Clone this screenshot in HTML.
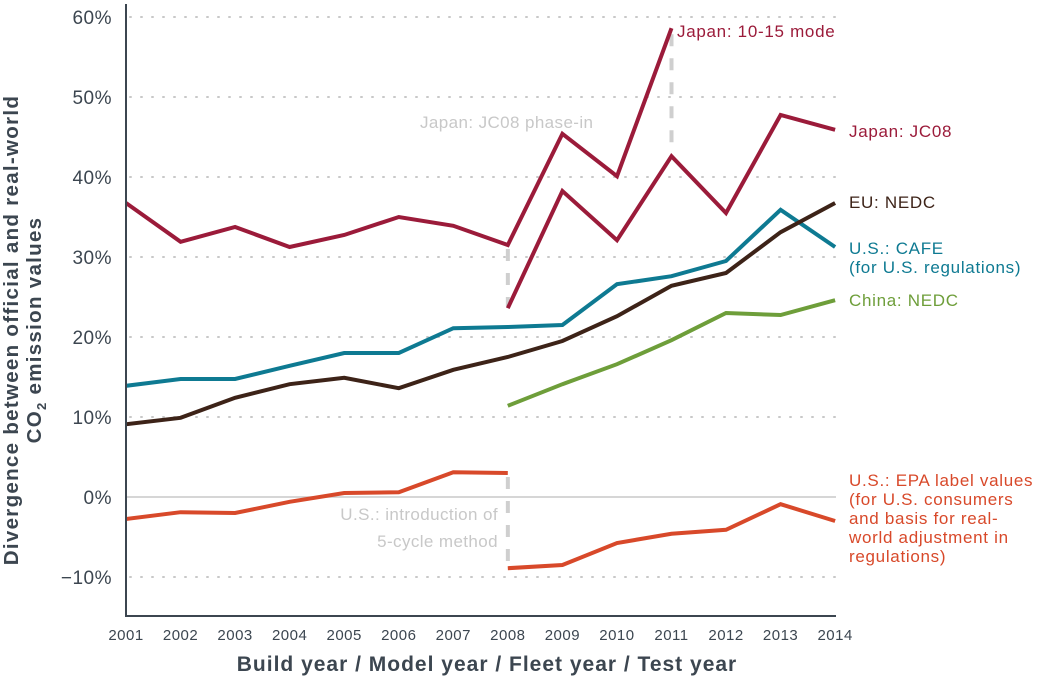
<!DOCTYPE html>
<html><head><meta charset="utf-8"><style>
body{margin:0;background:#fff;}
svg text{font-family:"Liberation Sans",sans-serif;}
</style></head><body>
<svg width="1056" height="680" viewBox="0 0 1056 680" xmlns="http://www.w3.org/2000/svg">
<g id="grid"></g>
<g id="ann"></g>
<g id="series"></g>
<g id="axes"></g>
<g id="labels"></g>
<text x="487" y="671" text-anchor="middle" font-size="21" font-weight="bold" letter-spacing="1" fill="#3c4650">Build year / Model year / Fleet year / Test year</text>
<text transform="translate(18,330) rotate(-90)" text-anchor="middle" font-size="20.5" font-weight="bold" letter-spacing="1.3" fill="#3c4650">Divergence between official and real-world</text>
<text transform="translate(41,330) rotate(-90)" text-anchor="middle" font-size="20.5" font-weight="bold" letter-spacing="1.3" fill="#3c4650">CO<tspan font-size="13" dy="5">2</tspan><tspan dy="-5"> emission values</tspan></text>
</svg>
<script>
const years=[2001,2002,2003,2004,2005,2006,2007,2008,2009,2010,2011,2012,2013,2014];
const yTicks=[-10,0,10,20,30,40,50,60];
const japan1015=[36.75,31.9,33.75,31.25,32.75,35,33.9,31.5,45.4,40.1,58.6];
const japanJC08=[23.6,38.25,32.1,42.6,35.5,47.75,45.9];
const eu=[9.1,9.9,12.4,14.1,14.9,13.6,15.9,17.5,19.5,22.6,26.4,28,33.1,36.75];
const usCafe=[13.9,14.75,14.75,16.4,18,18,21.1,21.25,21.5,26.6,27.6,29.5,35.9,31.25];
const china=[11.4,14.1,16.6,19.6,23,22.75,24.6];
const epaOld=[-2.75,-1.9,-2,-0.6,0.5,0.6,3.1,3];
const epaNew=[-8.9,-8.5,-5.75,-4.6,-4.1,-0.9,-3];
const NS="http://www.w3.org/2000/svg";
const x=yr=>126+(yr-2001)*54.55;
const y=v=>497-v*8.0;
function mk(tag,attrs,parent){const e=document.createElementNS(NS,tag);for(const k in attrs)e.setAttribute(k,attrs[k]);document.getElementById(parent).appendChild(e);return e;}
yTicks.forEach(t=>{
  if(t!==0){const l=mk('line',{x1:130,x2:836,y1:y(t),y2:y(t),stroke:'#c8c8c8','stroke-width':2,'stroke-dasharray':'1 10','stroke-linecap':'round'},'grid');
  
  }
  else{const l=mk('line',{x1:126,x2:836,y1:y(0),y2:y(0),stroke:'#c8c8c8','stroke-width':1.5},'grid');
  
  }
  const tx=mk('text',{x:112,y:y(t)+7,'text-anchor':'end','font-size':19,'letter-spacing':0.5,fill:'#3c4650'},'axes');
  tx.textContent=(t<0?'\u221210':t)+'%';
  
  
});
years.forEach(yr=>{const tx=mk('text',{x:x(yr),y:640,'text-anchor':'middle','font-size':15,'letter-spacing':0.5,fill:'#3c4650'},'axes');tx.textContent=yr;
  
  });
const ax=mk('path',{d:`M126 4 V616 H836`,fill:'none',stroke:'#3c4650','stroke-width':2},'axes');


[[x(2008),y(31.5)+4,y(23.6)-2],[x(2011),y(58.6)+6,y(42.6)-6],[x(2008),y(3)+4,y(-8.9)-4]].forEach(d=>{
  const l=mk('line',{x1:d[0],x2:d[0],y1:d[1],y2:d[2],stroke:'#cfcfcf','stroke-width':4,'stroke-dasharray':'12 12'},'ann');
  
  
});
[['Japan: JC08 phase-in',420,128,'start'],['U.S.: introduction of',498,520,'end'],['5-cycle method',498,547,'end']].forEach(a=>{
  const t=mk('text',{x:a[1],y:a[2],'text-anchor':a[3],'font-size':17,'letter-spacing':0.4,fill:'#c8c8c8'},'ann');t.textContent=a[0];
  
  
});
function line(vals,startYr,color,name){
  const d=vals.map((v,i)=>(i?'L':'M')+x(startYr+i).toFixed(1)+' '+y(v).toFixed(1)).join(' ');
  const p=mk('path',{d:d,fill:'none',stroke:color,'stroke-width':4,'stroke-linejoin':'miter'},'series');
  
  
}
line(japan1015,2001,'#9b1b3a','line-japan-10-15');
line(japanJC08,2008,'#9b1b3a','line-japan-jc08');
line(china,2008,'#6e9e3a','line-china-nedc');
line(usCafe,2001,'#0e7a92','line-us-cafe');
line(eu,2001,'#3d2318','line-eu-nedc');
line(epaOld,2001,'#d8492a','line-us-epa-old');
line(epaNew,2008,'#d8492a','line-us-epa-new');
const labs=[
 [['Japan: 10-15 mode'],677,37,'#9b1b3a'],
 [['Japan: JC08'],849,137,'#9b1b3a'],
 [['EU: NEDC'],849,208,'#3d2318'],
 [['U.S.: CAFE','(for U.S. regulations)'],849,254,'#0e7a92'],
 [['China: NEDC'],849,306,'#6e9e3a'],
 [['U.S.: EPA label values','(for U.S. consumers','and basis for real-','world adjustment in','regulations)'],849,486,'#d8492a']];
labs.forEach(l=>{l[0].forEach((s,i)=>{
  const t=mk('text',{x:l[1],y:l[2]+i*19,'font-size':17,'letter-spacing':0.7,fill:l[3]},'labels');t.textContent=s;
  
  
});});
</script>
</body></html>
